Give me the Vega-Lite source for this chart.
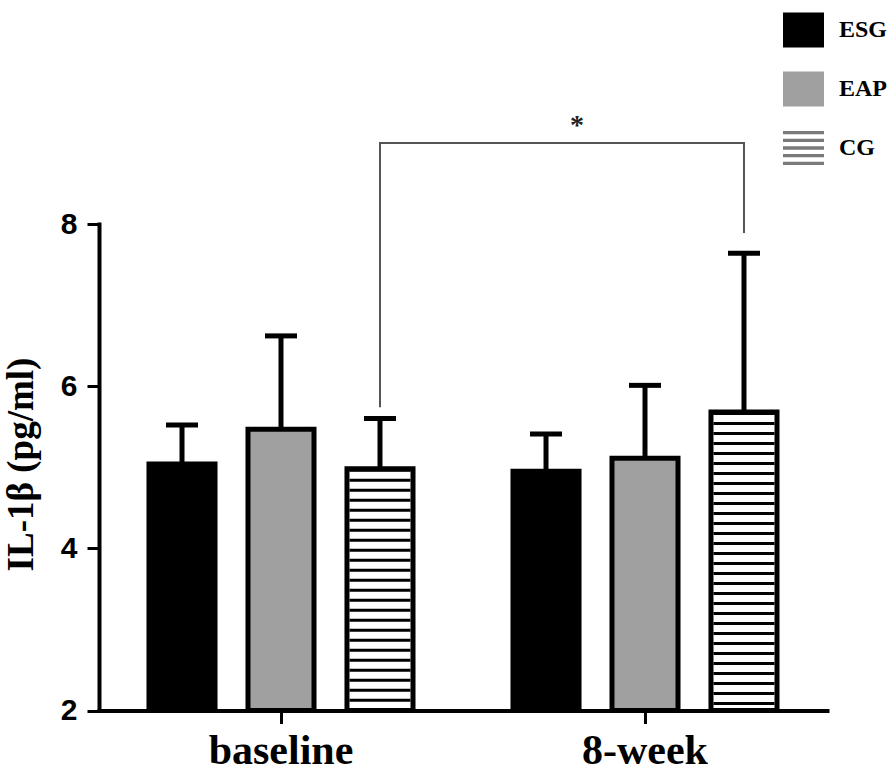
{
  "$schema": "https://vega.github.io/schema/vega-lite/v6.json",
  "width": 728,
  "height": 486.5,
  "autosize": {"type": "none"},
  "padding": {"left": 99, "top": 224, "right": 69, "bottom": 63.5},
  "background": "white",
  "config": {
    "view": {"stroke": null},
    "axis": {"grid": false, "domainColor": "black", "tickColor": "black", "labelColor": "black", "titleColor": "black", "domainCap": "square"},
    "axisY": {
      "labelFont": "Liberation Sans", "labelFontWeight": "bold", "labelFontSize": 30, "labelPadding": 10,
      "tickSize": 12, "tickWidth": 3, "domainWidth": 4, "format": "d",
      "titleFont": "Liberation Serif", "titleFontWeight": "bold", "titleFontSize": 37,
      "titleX": -78, "titleY": 240, "titleAngle": 270, "titleBaseline": "middle", "titleAlign": "center"
    },
    "axisX": {
      "labelFont": "Liberation Serif", "labelFontWeight": "bold", "labelFontSize": 42, "labelPadding": 7,
      "tickSize": 13, "tickWidth": 3, "domainWidth": 4, "labelAngle": 0
    }
  },
  "datasets": {
    "main": [
      {"time": "baseline", "group": "ESG", "mean": 5.04, "upper": 5.52},
      {"time": "baseline", "group": "EAP", "mean": 5.47, "upper": 6.62},
      {"time": "baseline", "group": "CG", "mean": 4.98, "upper": 5.60},
      {"time": "8-week", "group": "ESG", "mean": 4.95, "upper": 5.41},
      {"time": "8-week", "group": "EAP", "mean": 5.11, "upper": 6.01},
      {"time": "8-week", "group": "CG", "mean": 5.68, "upper": 7.64}
    ],
    "bracket": [
      {"time": "baseline", "group": "CG", "value": 5.74, "order": 1},
      {"time": "baseline", "group": "CG", "value": 9.0, "order": 2},
      {"time": "8-week", "group": "CG", "value": 9.0, "order": 3},
      {"time": "8-week", "group": "CG", "value": 7.89, "order": 4}
    ],
    "star": [
      {"time": "8-week", "value": 9.11, "label": "*"}
    ]
  },
  "layer": [
    {
      "data": {"name": "main"},
      "mark": {"type": "rule", "strokeWidth": 5, "color": "black"},
      "encoding": {
        "x": {"field": "time", "type": "nominal", "sort": ["baseline", "8-week"], "title": null, "scale": {"paddingInner": 0, "paddingOuter": 0}},
        "xOffset": {"field": "group", "type": "nominal", "sort": ["ESG", "EAP", "CG"], "scale": {"paddingInner": 0.333, "paddingOuter": 0.505}},
        "y": {"field": "mean", "type": "quantitative", "title": "IL-1β (pg/ml)", "scale": {"domain": [2, 8], "nice": false, "zero": false}, "axis": {"values": [2, 4, 6, 8]}},
        "y2": {"field": "upper"}
      }
    },
    {
      "data": {"name": "main"},
      "mark": {"type": "tick", "size": 32, "thickness": 5, "color": "black", "opacity": 1},
      "encoding": {
        "x": {"field": "time", "type": "nominal", "sort": ["baseline", "8-week"], "title": null},
        "xOffset": {"field": "group", "type": "nominal", "sort": ["ESG", "EAP", "CG"]},
        "y": {"field": "upper", "type": "quantitative", "title": "IL-1β (pg/ml)"}
      }
    },
    {
      "data": {"name": "main"},
      "mark": {"type": "bar", "stroke": "black", "strokeWidth": 5, "opacity": 1},
      "encoding": {
        "x": {"field": "time", "type": "nominal", "sort": ["baseline", "8-week"], "title": null},
        "xOffset": {"field": "group", "type": "nominal", "sort": ["ESG", "EAP", "CG"]},
        "y": {"field": "mean", "type": "quantitative", "title": "IL-1β (pg/ml)"},
        "y2": {"datum": 2},
        "fill": {
          "condition": {"test": "datum.group === 'CG'", "value": "#ffffff"},
          "field": "group", "type": "nominal",
          "scale": {"domain": ["ESG", "EAP", "CG"], "range": ["#000000", "#a0a0a0", "#7a7a7a"]}
        }
      }
    },
    {
      "data": {"name": "main"},
      "transform": [{"filter": "datum.group === 'CG'"}],
      "mark": {"type": "rule", "strokeWidth": 61, "strokeDash": [3, 7], "color": "black"},
      "encoding": {
        "x": {"field": "time", "type": "nominal", "sort": ["baseline", "8-week"], "title": null},
        "xOffset": {"field": "group", "type": "nominal", "sort": ["ESG", "EAP", "CG"]},
        "y": {"field": "mean", "type": "quantitative", "title": "IL-1β (pg/ml)"},
        "y2": {"datum": 2}
      }
    },
    {
      "data": {"name": "main"},
      "transform": [{"filter": "datum.mean > 100"}],
      "mark": {"type": "point", "filled": true, "opacity": 1, "strokeWidth": 0},
      "encoding": {
        "x": {"field": "time", "type": "nominal", "sort": ["baseline", "8-week"], "title": null},
        "xOffset": {"field": "group", "type": "nominal", "sort": ["ESG", "EAP", "CG"]},
        "y": {"field": "mean", "type": "quantitative", "title": "IL-1β (pg/ml)"},
        "fill": {
          "field": "group", "type": "nominal",
          "scale": {"domain": ["ESG", "EAP", "CG"], "range": ["#000000", "#a0a0a0", "#7a7a7a"]},
          "legend": {
            "orient": "none", "legendX": 684, "legendY": -214.5, "title": null, "padding": 0,
            "rowPadding": 21, "labelOffset": 15, "symbolSize": 1681, "symbolStrokeWidth": 0,
            "labelFont": "Liberation Serif", "labelFontWeight": "bold", "labelFontSize": 24, "labelColor": "black"
          }
        },
        "shape": {
          "field": "group", "type": "nominal",
          "scale": {"domain": ["ESG", "EAP", "CG"], "range": ["M-1,-0.85H1V0.85H-1Z", "M-1,-0.85H1V0.85H-1Z", "M-1,-0.83H1V-0.67H-1Z M-1,-0.455H1V-0.295H-1Z M-1,-0.08H1V0.08H-1Z M-1,0.295H1V0.455H-1Z M-1,0.67H1V0.83H-1Z"]},
          "legend": {
            "orient": "none", "legendX": 684, "legendY": -214.5, "title": null, "padding": 0,
            "rowPadding": 21, "labelOffset": 15, "symbolSize": 1681, "symbolStrokeWidth": 0,
            "labelFont": "Liberation Serif", "labelFontWeight": "bold", "labelFontSize": 24, "labelColor": "black"
          }
        }
      }
    },
    {
      "data": {"name": "bracket"},
      "mark": {"type": "line", "color": "#555555", "strokeWidth": 2},
      "encoding": {
        "x": {"field": "time", "type": "nominal", "sort": ["baseline", "8-week"], "title": null},
        "xOffset": {"field": "group", "type": "nominal", "sort": ["ESG", "EAP", "CG"]},
        "y": {"field": "value", "type": "quantitative", "title": "IL-1β (pg/ml)"},
        "order": {"field": "order", "type": "quantitative"}
      }
    },
    {
      "data": {"name": "star"},
      "mark": {"type": "text", "font": "Liberation Serif", "fontWeight": "bold", "fontSize": 28, "baseline": "alphabetic", "align": "center", "dx": -68, "color": "#222222"},
      "encoding": {
        "x": {"field": "time", "type": "nominal", "sort": ["baseline", "8-week"], "title": null},
        "y": {"field": "value", "type": "quantitative", "title": "IL-1β (pg/ml)"},
        "text": {"field": "label"}
      }
    }
  ]
}
